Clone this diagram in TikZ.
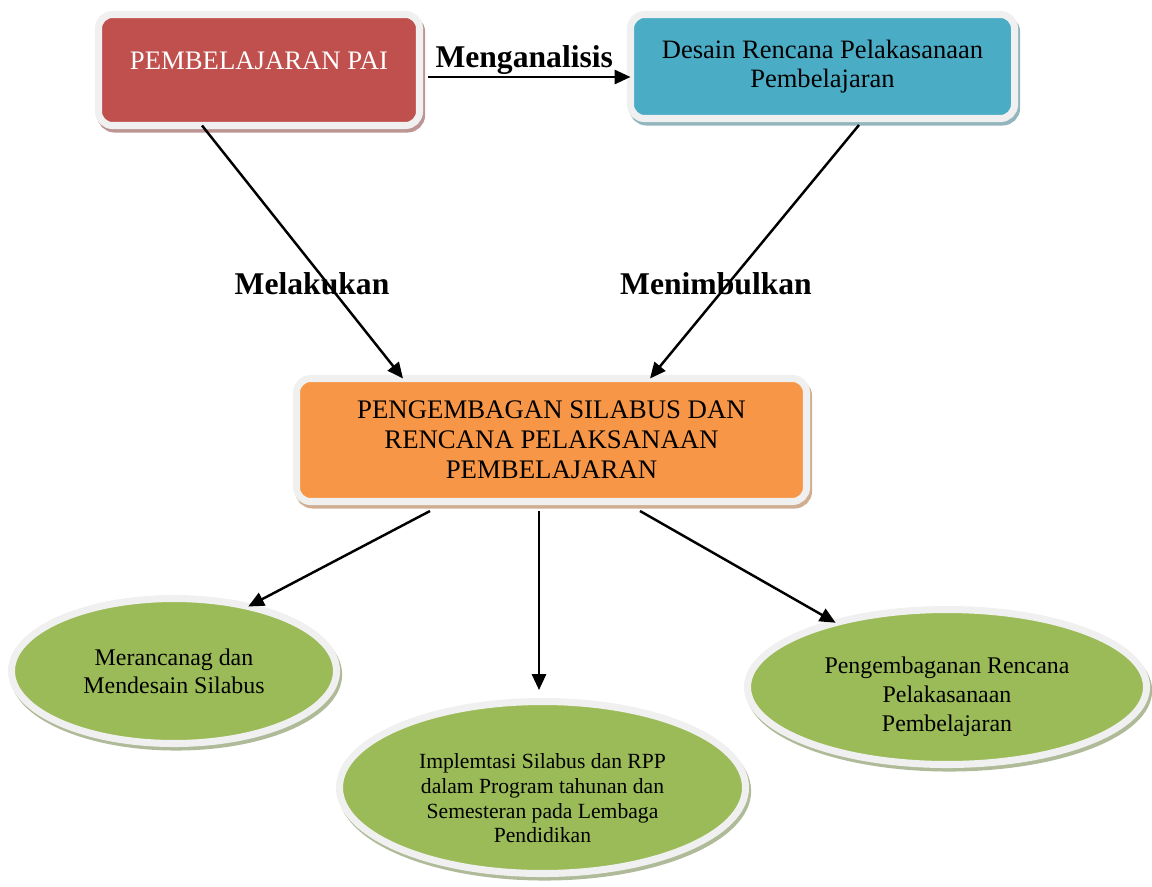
\documentclass[tikz,border=0pt]{standalone}
\usepackage{fontspec}
\setmainfont{Liberation Serif}
\usepackage{tikz}
\usetikzlibrary{positioning}
\usetikzlibrary{arrows.meta,shapes.geometric}

\definecolor{paired}{HTML}{C0504D}
\definecolor{rppblue}{HTML}{4BACC6}
\definecolor{silorange}{HTML}{F79646}
\definecolor{leafgreen}{HTML}{9BBB59}
\definecolor{rimgray}{HTML}{F0F0F0}

\tikzset{
	rim/.style={draw=rimgray, line width=4pt, outer sep=0pt, fill=#1,
		preaction={fill=#1!50!gray!70, draw=#1!50!gray!70, line width=4pt,
			transform canvas={xshift=1.2pt,yshift=-2pt}}},
	kotak/.style={rim=#1, rectangle, rounded corners=8pt, align=center, inner sep=0pt},
	oval/.style={rim=#1, ellipse, align=center, inner sep=0pt},
	kata/.style={font=\fontsize{18}{20}\selectfont\bfseries, inner sep=1pt}
}

\begin{document}
\begin{tikzpicture}[>={Triangle[length=9pt,width=8pt]}, line width=1.4pt]
	\useasboundingbox (0,0) rectangle (23.04,-17.72);
	
	\node[kotak=paired, minimum width=6.42cm, minimum height=2.22cm, text=white,
		font=\fontsize{15.2}{17}\selectfont, text height=0.36cm, text depth=0.38cm] (pai) at (5.18,-1.4) {PEMBELAJARAN PAI};
	\node[kotak=rppblue, minimum width=7.68cm, minimum height=2.08cm,
		font=\fontsize{15.1}{16.8}\selectfont] (desain) at (16.45,-1.33) {Desain Rencana Pelakasanaan\\Pembelajaran};
	
	\node[kotak=silorange, minimum width=10.2cm, minimum height=2.46cm,
		font=\fontsize{15.25}{17}\selectfont] (silabus) at (11.03,-8.8) {PENGEMBAGAN SILABUS DAN\\RENCANA PELAKSANAAN\\PEMBELAJARAN};
	
	\node[oval=leafgreen, minimum width=6.5cm, minimum height=2.9cm,
		font=\fontsize{13.6}{16}\selectfont] (rancang) at (3.48,-13.42) {Merancanag dan\\Mendesain Silabus};
	\node[oval=leafgreen, minimum width=8.12cm, minimum height=3.44cm,
		font=\fontsize{12.3}{14}\selectfont] (implementasi) at (10.85,-15.75) {\rule{0pt}{21pt}Implemtasi Silabus dan RPP\\dalam Program tahunan dan\\Semesteran pada Lembaga\\Pendidikan};
	\node[oval=leafgreen, minimum width=7.98cm, minimum height=3.1cm,
		font=\fontsize{13.6}{16.5}\selectfont] (rpp) at (18.94,-13.74) {\rule{0pt}{20pt}Pengembaganan Rencana\\Pelakasanaan\\Pembelajaran};
	
	\node[kata] (lakukan) at (6.24,-5.67) {Melakukan};
	\node[kata] (timbul) at (14.32,-5.68) {Menimbulkan};
	
	\draw[->] ([xshift=0.17cm,yshift=-0.14cm]pai.east) -- ([yshift=-0.14cm]pai.east -| desain.west)
		node[midway, above=-2pt, xshift=-0.1cm, kata] (analisis) {\underline{Menganalisis}};
	\draw[->] ([xshift=-1.14cm]pai.south) -- ([xshift=-2.97cm]silabus.north);
	\draw[->] ([xshift=0.73cm,yshift=-0.13cm]desain.south) -- ([xshift=1.97cm]silabus.north);
	
	\draw[->] ([xshift=-2.43cm,yshift=-0.19cm]silabus.south) -- (rancang.41);
	\draw[->, shorten >=0.23cm] ([xshift=-0.25cm,yshift=-0.19cm]silabus.south) -- ([xshift=-0.25cm]silabus.south |- implementasi.north);
	\draw[->] ([xshift=1.77cm,yshift=-0.19cm]silabus.south) -- (rpp.150);
\end{tikzpicture}
\end{document}
